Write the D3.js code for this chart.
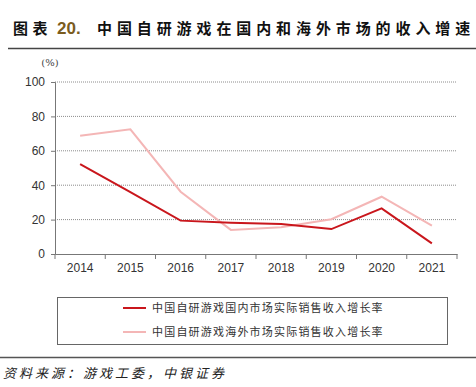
<!DOCTYPE html>
<html>
<head>
<meta charset="utf-8">
<script src="https://cdn.jsdelivr.net/npm/d3@7"></script>
<style>
  body { margin: 0; background: #fff; }
  svg { display: block; }
</style>
</head>
<body>
<svg id="chart" width="476" height="387"></svg>
<script>
// Growth of China's self-developed games, domestic vs overseas (%)

const years = ["2014", "2015", "2016", "2017", "2018", "2019", "2020", "2021"];
const domestic = [52.2, 36.0, 19.4, 18.2, 17.4, 14.5, 26.5, 6.2];
const overseas = [68.8, 72.5, 36.2, 14.0, 15.5, 20.2, 33.3, 16.5];
const yTicks = [0, 20, 40, 60, 80, 100];
const seriesNames = [
  "中国自研游戏国内市场实际销售收入增长率",
  "中国自研游戏海外市场实际销售收入增长率"
];

const svg = d3.select("#chart");
const cjk = "'Noto Sans CJK SC', sans-serif";
const latin = "'Liberation Sans Narrow', 'Liberation Sans', Arial, sans-serif";

// title
const title = svg.append("text")
  .attr("y", 34)
  .attr("font-family", cjk)
  .attr("font-weight", "bold")
  .attr("font-size", 15)
  .attr("fill", "#111");
title.append("tspan").attr("x", 13).attr("letter-spacing", 4.6).text("图表");
title.append("tspan").attr("x", 57).attr("fill", "#7b5c1e").attr("font-family", latin).attr("font-size", 17).text("20.");
title.append("tspan").attr("x", 97).attr("letter-spacing", 4.9).text("中国自研游戏在国内和海外市场的收入增速");

svg.append("line")
  .attr("x1", 8).attr("x2", 476)
  .attr("y1", 48.5).attr("y2", 48.5)
  .attr("stroke", "#444").attr("stroke-width", 1.5);

// plot area
const plot = {left: 55, right: 457, top: 82, bottom: 254};

const x = d3.scaleBand().domain(years).range([plot.left, plot.right]);
const y = d3.scaleLinear().domain([0, 100]).range([plot.bottom, plot.top]);

// grid
svg.append("g")
  .selectAll("line")
  .data(yTicks.filter(d => d > 0))
  .join("line")
  .attr("x1", plot.left).attr("x2", plot.right)
  .attr("y1", d => y(d)).attr("y2", d => y(d))
  .attr("stroke", "#8c8c8c")
  .attr("stroke-width", 1)
  .attr("stroke-dasharray", "1,1");

// y axis
const yAxis = svg.append("g")
  .attr("transform", `translate(${plot.left},0)`)
  .call(d3.axisLeft(y).tickValues(yTicks).tickSize(4).tickPadding(6));
yAxis.select(".domain").attr("stroke", "#777");
yAxis.selectAll(".tick line").attr("stroke", "#777");
yAxis.selectAll("text")
  .attr("font-family", latin)
  .attr("font-size", 12)
  .attr("fill", "#333");

// x axis: ticks on band boundaries
const xAxis = svg.append("g")
  .attr("transform", `translate(0,${plot.bottom})`)
  .call(d3.axisBottom(x).tickSize(0).tickPadding(9));
xAxis.select(".domain").attr("stroke", "#777");
xAxis.selectAll("text")
  .attr("font-family", latin)
  .attr("font-size", 12)
  .attr("fill", "#333");
xAxis.selectAll(".edge")
  .data(years.map(d => x(d)).concat([plot.right]))
  .join("line")
  .attr("class", "edge")
  .attr("x1", d => d).attr("x2", d => d)
  .attr("y1", 0).attr("y2", 5)
  .attr("stroke", "#777");

svg.append("text")
  .attr("x", 50)
  .attr("y", 66)
  .attr("text-anchor", "middle")
  .attr("font-family", "'DejaVu Serif', serif")
  .attr("font-size", 10)
  .attr("fill", "#444")
  .text("(%)");

// lines
const line = d3.line()
  .x((d, i) => x(years[i]) + x.bandwidth() / 2)
  .y(d => y(d));

const colors = ["#c9161c", "#f4b6b6"];

svg.append("path")
  .datum(overseas)
  .attr("d", line)
  .attr("fill", "none")
  .attr("stroke", colors[1])
  .attr("stroke-width", 2);

svg.append("path")
  .datum(domestic)
  .attr("d", line)
  .attr("fill", "none")
  .attr("stroke", colors[0])
  .attr("stroke-width", 2);

// legend
svg.append("rect")
  .attr("x", 57.5).attr("y", 297.5)
  .attr("width", 390).attr("height", 47)
  .attr("fill", "none")
  .attr("stroke", "#666")
  .attr("stroke-width", 1);

const legend = svg.append("g")
  .selectAll("g")
  .data(seriesNames)
  .join("g")
  .attr("transform", (d, i) => `translate(123,${308 + i * 24})`);

legend.append("line")
  .attr("x1", 0).attr("x2", 23)
  .attr("stroke", (d, i) => colors[i])
  .attr("stroke-width", 2);

legend.append("text")
  .attr("x", 29)
  .attr("dy", "0.35em")
  .attr("font-family", cjk)
  .attr("font-size", 11)
  .attr("letter-spacing", 1.2)
  .attr("fill", "#333")
  .text(d => d);

// footer
svg.append("line")
  .attr("x1", 0).attr("x2", 476)
  .attr("y1", 357.5).attr("y2", 357.5)
  .attr("stroke", "#555").attr("stroke-width", 1.5);

svg.append("text")
  .attr("x", 3)
  .attr("y", 378)
  .attr("font-family", cjk)
  .attr("font-size", 13)
  .attr("font-style", "italic")
  .attr("letter-spacing", 3)
  .attr("fill", "#222")
  .text("资料来源：游戏工委，中银证券");
</script>
</body>
</html>
